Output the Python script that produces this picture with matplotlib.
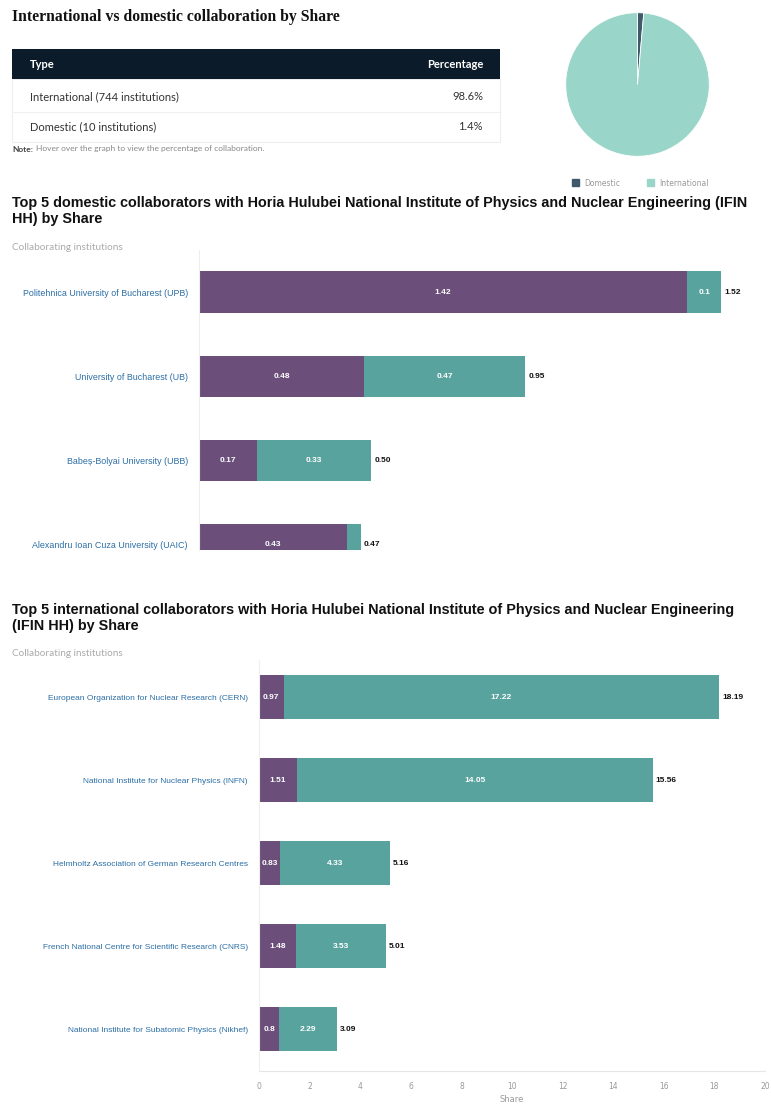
import matplotlib
matplotlib.use("Agg")
import matplotlib.pyplot as plt
from matplotlib.patches import Rectangle

# --- data -------------------------------------------------------------
pie_labels = ["Domestic", "International"]
pie_shares = [1.4, 98.6]

table_types = ["International (744 institutions)", "Domestic (10 institutions)"]
table_pct = [98.6, 1.4]

dom_names = ["Politehnica University of Bucharest (UPB)",
             "University of Bucharest (UB)",
             "Babeș-Bolyai University (UBB)",
             "Alexandru Ioan Cuza University (UAIC)"]
dom_purple = [1.42, 0.48, 0.17, 0.43]
dom_teal = [0.1, 0.47, 0.33, 0.04]

intl_names = ["European Organization for Nuclear Research (CERN)",
              "National Institute for Nuclear Physics (INFN)",
              "Helmholtz Association of German Research Centres",
              "French National Centre for Scientific Research (CNRS)",
              "National Institute for Subatomic Physics (Nikhef)"]
intl_purple = [0.97, 1.51, 0.83, 1.48, 0.8]
intl_teal = [17.22, 14.05, 4.33, 3.53, 2.29]
intl_ticks = [0, 2, 4, 6, 8, 10, 12, 14, 16, 18, 20]

# --- style ------------------------------------------------------------
PURPLE = "#6b4f7a"
TEAL = "#59a39f"
LINK = "#2b6ea5"
NARROW = ["Liberation Sans", "DejaVu Sans"]
W, H = 771, 1106


def box(x0, y0, x1, y1):
    # pixel box (top-left origin) -> figure fraction
    return [x0 / W, 1 - y1 / H, (x1 - x0) / W, (y1 - y0) / H]


fig = plt.figure(figsize=(W / 100, H / 100), dpi=100)
fig.patch.set_facecolor("white")

# overlay axes in pixel coordinates for the title / table part
ov = fig.add_axes([0, 0, 1, 1])
ov.set_xlim(0, W)
ov.set_ylim(H, 0)
ov.axis("off")

ov.text(12, 17, "International vs domestic collaboration by Share",
        fontsize=11.3, fontweight="bold", family=["Liberation Serif", "DejaVu Serif"],
        va="center", ha="left", color="#111111")

# table
ov.add_patch(Rectangle((12, 79), 488, 63, facecolor="white", edgecolor="#eeeeee", lw=0.8))
ov.add_patch(Rectangle((12, 49), 488, 30, facecolor="#0c1b2a", edgecolor="none"))
ov.plot([12, 500], [112, 112], color="#f0f0f0", lw=0.8)
ov.text(30, 64, "Type", color="white", fontsize=8, fontweight="bold", va="center", family="Lato")
ov.text(483, 64, "Percentage", color="white", fontsize=8, fontweight="bold",
        va="center", ha="right", family="Lato")
for i, (t, p) in enumerate(zip(table_types, table_pct)):
    y = 97 + i * 30
    ov.text(30, y, t, fontsize=8, va="center", color="#333333", family="Lato")
    ov.text(483, y, f"{p}%", fontsize=8, va="center", ha="right", color="#333333", family="Lato")
ov.text(12, 149, "Note:", fontsize=6, fontweight="bold", va="center", color="#444444", family="Lato")
ov.text(36, 149, "Hover over the graph to view the percentage of collaboration.",
        fontsize=6, va="center", color="#888888", family="Lato")

# pie
pax = fig.add_axes(box(565, 12, 710, 157))
pax.pie(pie_shares, colors=["#3f5b6b", "#99d5c9"], startangle=90, counterclock=False,
        wedgeprops=dict(edgecolor="white", linewidth=0.6))
pax.set_aspect("equal")
pax.set_xlim(-1.01, 1.01)
pax.set_ylim(-1.01, 1.01)
leg_handles = [Rectangle((0, 0), 1, 1, color=c) for c in ["#3f5b6b", "#99d5c9"]]
fig.legend(leg_handles, pie_labels, loc="center", bbox_to_anchor=(640 / W, 1 - 183 / H),
           ncol=2, frameon=False, fontsize=5.5, handlelength=1.0, handleheight=1.0,
           columnspacing=3.5, handletextpad=0.6, labelcolor="#999999")

# section titles
ov.text(12, 211, "Top 5 domestic collaborators with Horia Hulubei National Institute of Physics and Nuclear Engineering (IFIN\nHH) by Share",
        fontsize=10.4, fontweight="bold", family=NARROW, va="center", linespacing=1.25, color="#111111")
ov.text(12, 248, "Collaborating institutions", fontsize=7.2, color="#aaaaaa", va="center", family="Lato")
ov.text(12, 618, "Top 5 international collaborators with Horia Hulubei National Institute of Physics and Nuclear Engineering\n(IFIN HH) by Share",
        fontsize=10.4, fontweight="bold", family=NARROW, va="center", linespacing=1.25, color="#111111")
ov.text(12, 654, "Collaborating institutions", fontsize=7.2, color="#aaaaaa", va="center", family="Lato")


def stacked(ax, names, a, b, xmax, height, min_frac, tick_size):
    ys = list(range(len(names)))
    ax.barh(ys, a, height=height, color=PURPLE)
    ax.barh(ys, b, left=a, height=height, color=TEAL)
    for y, va_, vb in zip(ys, a, b):
        if va_ / xmax > min_frac:
            ax.text(va_ / 2, y, f"{va_:g}", color="white", ha="center", va="center",
                    fontsize=6, fontweight="bold", family=NARROW)
        if vb / xmax > min_frac:
            ax.text(va_ + vb / 2, y, f"{vb:g}", color="white", ha="center", va="center",
                    fontsize=6, fontweight="bold", family=NARROW)
        ax.text(va_ + vb + xmax * 0.006, y, f"{va_ + vb:.2f}", color="#111111", ha="left",
                va="center", fontsize=6, fontweight="bold", family=NARROW)
    ax.set_yticks(ys)
    ax.set_yticklabels(names, color=LINK, fontsize=tick_size, family=NARROW)
    ax.tick_params(axis="y", length=0, pad=8)
    for s in ["top", "right"]:
        ax.spines[s].set_visible(False)
    ax.spines["left"].set_color("#eeeeee")
    ax.spines["bottom"].set_color("#e6e6e6")


# domestic (cut off at the bottom like the reference)
dax = fig.add_axes(box(199, 250, 766, 550))
stacked(dax, dom_names, dom_purple, dom_teal, 1.65, 0.49, 0.03, 6.4)
dax.set_xlim(0, 1.65)
dax.set_ylim(3.06, -0.5)
dax.set_xticks([])
dax.spines["bottom"].set_visible(False)

# international
iax = fig.add_axes(box(259, 660, 765, 1071))
stacked(iax, intl_names, intl_purple, intl_teal, 20, 0.53, 0.03, 6.0)
iax.set_xlim(0, 20)
iax.set_ylim(4.5, -0.45)
iax.set_xticks(intl_ticks)
iax.tick_params(axis="x", length=0, labelsize=5.5, labelcolor="#999999", pad=8)
iax.set_xlabel("Share", fontsize=6, color="#999999", labelpad=3)

fig.savefig("out.png", dpi=100)
